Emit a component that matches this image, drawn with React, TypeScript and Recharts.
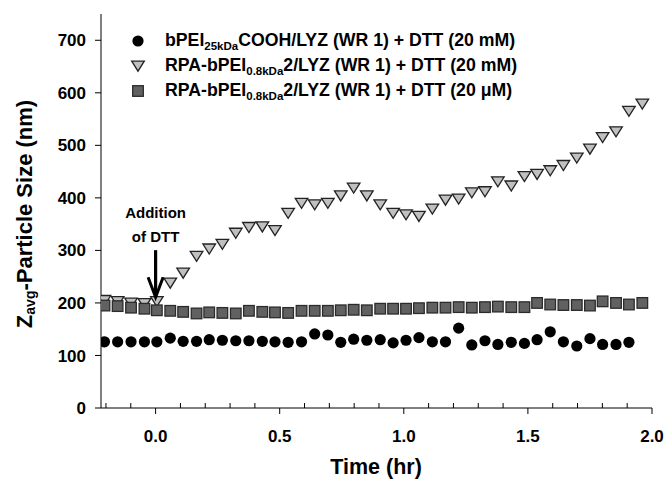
import React from 'react';
import { ScatterChart, Scatter, XAxis, YAxis, ReferenceDot, Label } from 'recharts';

// time points (hr), DTT added at t = 0
const times = [
  -0.206, -0.153, -0.099, -0.045, 0.005, 0.059, 0.111, 0.165, 0.216, 0.269,
  0.323, 0.376, 0.43, 0.481, 0.534, 0.588, 0.641, 0.694, 0.746, 0.798,
  0.851, 0.905, 0.957, 1.009, 1.061, 1.115, 1.168, 1.221, 1.274, 1.327,
  1.379, 1.433, 1.486, 1.537, 1.59, 1.643, 1.697, 1.75, 1.801, 1.855,
  1.907, 1.961,
];

// Z-avg particle size (nm)
const cooh20mM = [
  126, 126, 126, 126, 126, 133, 127, 127, 130, 129,
  128, 128, 127, 126, 125, 126, 141, 139, 125, 131,
  129, 130, 124, 129, 134, 126, 126, 152, 120, 128,
  121, 125, 123, 130, 145, 126, 118, 132, 121, 121,
  125,
];
const rpa20mM = [
  205, 203, 200, 199, 203, 238, 257, 289, 303, 312,
  333, 344, 345, 338, 371, 390, 387, 390, 404, 419,
  404, 387, 371, 368, 365, 379, 396, 398, 410, 412,
  431, 423, 441, 445, 452, 462, 476, 493, 515, 526,
  565, 579,
];
const rpa20uM = [
  195, 194, 191, 189, 186, 185, 183, 180, 182, 181,
  180, 185, 183, 182, 181, 185, 185, 185, 186, 187,
  186, 189, 189, 189, 190, 191, 191, 192, 191, 192,
  193, 192, 192, 200, 197, 196, 196, 195, 203, 200,
  197, 200,
];

const xTicks = [
  -0.2, -0.1, 0, 0.1, 0.2, 0.3, 0.4, 0.5, 0.6, 0.7, 0.8, 0.9, 1.0,
  1.1, 1.2, 1.3, 1.4, 1.5, 1.6, 1.7, 1.8, 1.9, 2.0,
];
const yTicks = [0, 100, 200, 300, 400, 500, 600, 700];

const dttTime = 0;
const dttArrowTip = 211;

const FONT = '"Liberation Sans", Arial, sans-serif';

const toPoints = (vals: number[]) => vals.map((v, i) => ({ t: times[i], size: v }));

const Dot = ({ cx, cy }: any) => <circle cx={cx} cy={cy} r={5.6} fill="#000" />;
const Tri = ({ cx, cy }: any) => (
  <path
    d={`M${cx - 6.3},${cy - 4.8} L${cx + 6.3},${cy - 4.8} L${cx},${cy + 5.2} Z`}
    fill="#c0c0c0"
    stroke="#222"
    strokeWidth={1.3}
    strokeLinejoin="miter"
  />
);
const Sq = ({ cx, cy }: any) => (
  <rect x={cx - 5.3} y={cy - 5.3} width={10.6} height={10.6} fill="#616161" stroke="#2b2b2b" strokeWidth={1.3} />
);

const series = [
  { key: 'cooh', pre: 'bPEI', sub: '25kDa', post: 'COOH/LYZ (WR 1) + DTT (20 mM)', data: toPoints(cooh20mM), shape: Dot },
  { key: 'rpaMm', pre: 'RPA-bPEI', sub: '0.8kDa', post: '2/LYZ (WR 1) + DTT (20 mM)', data: toPoints(rpa20mM), shape: Tri },
  { key: 'rpaUm', pre: 'RPA-bPEI', sub: '0.8kDa', post: '2/LYZ (WR 1) + DTT (20 \u03bcM)', data: toPoints(rpa20uM), shape: Sq },
];

function XTick({ x, y, payload }: any) {
  const v = payload.value;
  const major = Math.abs(v * 2 - Math.round(v * 2)) < 1e-6;
  return (
    <g>
      <line x1={x} y1={y} x2={x} y2={major ? y + 6 : y - 5} stroke="#000" strokeWidth={1} />
      {major && (
        <text x={x} y={y + 34} textAnchor="middle" fontSize={17} fontWeight="bold" fontFamily={FONT} fill="#000">
          {v.toFixed(1)}
        </text>
      )}
    </g>
  );
}

function DttArrow({ cx, cy }: any) {
  return (
    <g fontFamily={FONT} fontWeight="bold" fontSize={15} fill="#000">
      <text x={cx} y={cy - 79} textAnchor="middle">Addition</text>
      <text x={cx} y={cy - 55} textAnchor="middle">of DTT</text>
      <line x1={cx} y1={cy - 47} x2={cx} y2={cy - 2} stroke="#000" strokeWidth={3.2} />
      <polyline points={`${cx - 7.5},${cy - 20} ${cx},${cy} ${cx + 7.5},${cy - 20}`} fill="none" stroke="#000" strokeWidth={3} />
    </g>
  );
}

function YTitle() {
  const cx = 24;
  const cy = 214;
  return (
    <text
      transform={`translate(${cx},${cy}) rotate(-90)`}
      textAnchor="middle"
      dominantBaseline="central"
      fontFamily={FONT}
      fontWeight="bold"
      fontSize={22}
      fill="#000"
    >
      Z<tspan fontSize={14} dy={6}>avg</tspan>
      <tspan dy={-6}>-Particle Size (nm)</tspan>
    </text>
  );
}

function XTitle() {
  return (
    <text x={376} y={474} textAnchor="middle" fontFamily={FONT} fontWeight="bold" fontSize={21.5} fill="#000">
      Time (hr)
    </text>
  );
}

function LegendBox() {
  return (
    <div style={{ position: 'absolute', left: 128, top: 28, fontFamily: FONT, fontWeight: 'bold', fontSize: 17.7 }}>
      {series.map((s) => (
        <div key={s.key} style={{ display: 'flex', alignItems: 'center', height: 25 }}>
          <svg width={22} height={22} style={{ marginRight: 15 }}>
            {s.shape({ cx: 10, cy: 11 })}
          </svg>
          <span style={{ whiteSpace: 'nowrap' }}>
            {s.pre}
            <sub style={{ fontSize: 11.5, verticalAlign: '-4px' }}>{s.sub}</sub>
            {s.post}
          </span>
        </div>
      ))}
    </div>
  );
}

export default function App() {
  return (
    <div style={{ position: 'absolute', left: 0, top: 0, width: 665, height: 486, background: '#fff' }}>
      <ScatterChart width={665} height={486} margin={{ top: 14, right: 13, bottom: 0, left: 0 }}>
        <XAxis
          dataKey="t"
          type="number"
          domain={[-0.22, 2.0]}
          ticks={xTicks}
          interval={0}
          allowDataOverflow
          height={78}
          tickSize={0}
          tickMargin={0}
          tickLine={false}
          tick={<XTick />}
          axisLine={{ stroke: '#000', strokeWidth: 1 }}
        >
          <Label content={<XTitle />} />
        </XAxis>
        <YAxis
          dataKey="size"
          type="number"
          domain={[0, 750]}
          ticks={yTicks}
          interval={0}
          width={101}
          tickSize={6}
          tickMargin={9}
          tickLine={{ stroke: '#000' }}
          axisLine={{ stroke: '#000', strokeWidth: 1 }}
          tick={{ fill: '#000', fontSize: 17, fontWeight: 'bold', fontFamily: FONT }}
        >
          <Label content={<YTitle />} />
        </YAxis>
        {series.map((s) => (
          <Scatter key={s.key} data={s.data} shape={s.shape} isAnimationActive={false} />
        ))}
        <ReferenceDot x={dttTime} y={dttArrowTip} shape={<DttArrow />} />
      </ScatterChart>
      <LegendBox />
    </div>
  );
}
